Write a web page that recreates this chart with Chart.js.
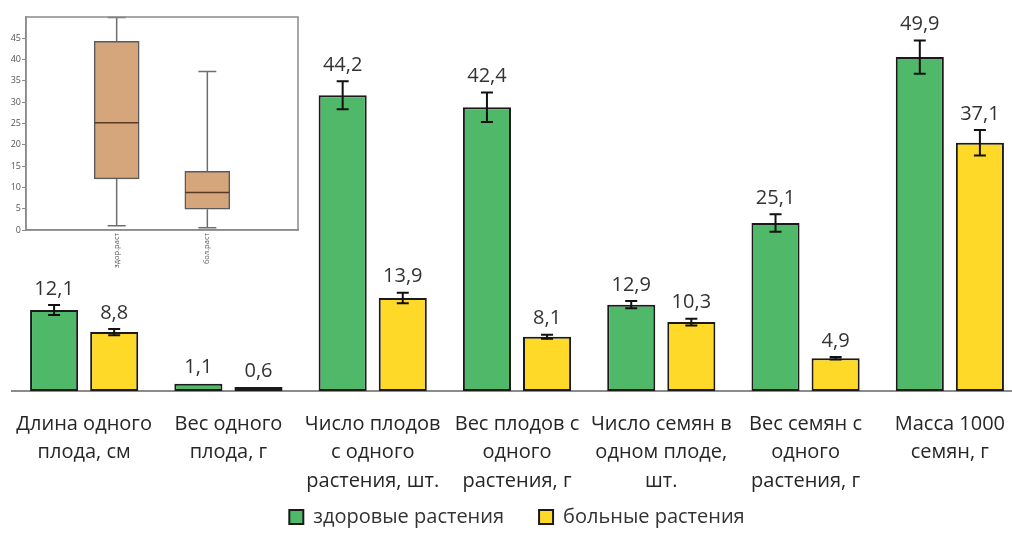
<!DOCTYPE html>
<html lang="ru">
<head>
<meta charset="utf-8">
<script src="https://cdn.jsdelivr.net/npm/chart.js@4.4.1/dist/chart.umd.min.js"></script>
<style>
  html, body { margin: 0; padding: 0; background: #fff; overflow: hidden; }
  #wrap { position: relative; width: 1012px; height: 537px; overflow: hidden; }
  #main { position: absolute; left: 0; top: 0; }
  #inset { position: absolute; left: 0; top: 0; }
</style>
</head>
<body>
<div id="wrap">
  <canvas id="main" width="1030" height="537"></canvas>
  <canvas id="inset" width="310" height="276"></canvas>
</div>
<script>
// Bar chart: plant traits, healthy vs diseased
const categories = [
  ['Длина одного', 'плода, см'],
  ['Вес одного', 'плода, г'],
  ['Число плодов', 'с одного', 'растения, шт.'],
  ['Вес плодов с', 'одного', 'растения, г'],
  ['Число семян в', 'одном плоде,', 'шт.'],
  ['Вес семян с', 'одного', 'растения, г'],
  ['Масса 1000', 'семян, г']
];
const seriesNames = ['здоровые растения', 'больные растения'];
const healthy = [12.1, 1.1, 44.2, 42.4, 12.9, 25.1, 49.9];
const diseased = [8.8, 0.6, 13.9, 8.1, 10.3, 4.9, 37.1];
const healthyErr = [0.75, 0, 2.1, 2.2, 0.55, 1.3, 2.5];
const diseasedErr = [0.45, 0, 0.8, 0.3, 0.5, 0.2, 1.9];

// Box plot: healthy vs diseased plants
const boxLabels = ['', 'здор.раст', 'бол.раст', ''];
const boxMin = [null, 1.0, 0.5, null];
const boxQ1 = [null, 12.0, 4.9, null];
const boxMedian = [null, 25.2, 8.8, null];
const boxQ3 = [null, 44.3, 13.8, null];
const boxMax = [null, 49.9, 37.2, null];
const boxTickValues = [0, 5, 10, 15, 20, 25, 30, 35, 40, 45];

Chart.defaults.font.family = "'Open Sans', 'Noto Sans', sans-serif";
Chart.defaults.animation = false;

const errors = [healthyErr, diseasedErr];

// Error bars and value labels above each bar
const errorBarPlugin = {
  id: 'errorBars',
  afterLayout(chart) {
    // let the multi-line category labels run down to the legend
    chart.scales.x.bottom = chart.height;
  },
  afterDatasetsDraw(chart) {
    const ctx = chart.ctx;
    const y = chart.scales.y;
    ctx.save();
    chart.data.datasets.forEach((ds, i) => {
      const meta = chart.getDatasetMeta(i);
      meta.data.forEach((bar, j) => {
        const v = ds.data[j];
        const e = errors[i][j];
        const top = y.getPixelForValue(v + e);
        const bot = y.getPixelForValue(v - e);
        if (e > 0) {
          ctx.strokeStyle = '#111';
          ctx.lineWidth = 2;
          ctx.beginPath();
          ctx.moveTo(bar.x, top); ctx.lineTo(bar.x, bot);
          ctx.moveTo(bar.x - 6, top); ctx.lineTo(bar.x + 6, top);
          ctx.moveTo(bar.x - 6, bot); ctx.lineTo(bar.x + 6, bot);
          ctx.stroke();
        }
        ctx.fillStyle = '#333';
        ctx.font = "20px 'Open Sans', sans-serif";
        ctx.textAlign = 'center';
        ctx.textBaseline = 'middle';
        ctx.fillText(v.toFixed(1).replace('.', ','), bar.x, top - 16);
      });
    });
    ctx.restore();
  }
};

new Chart(document.getElementById('main'), {
  type: 'bar',
  data: {
    labels: categories,
    datasets: [
      { label: seriesNames[0], data: healthy, backgroundColor: '#50B969', borderColor: '#1a1a1a', borderWidth: 2, borderSkipped: false },
      { label: seriesNames[1], data: diseased, backgroundColor: '#FFD928', borderColor: '#1a1a1a', borderWidth: 2, borderSkipped: false }
    ]
  },
  options: {
    responsive: false,
    layout: { padding: { top: 23, left: 12, right: 8, bottom: 0 } },
    categoryPercentage: 0.833,
    barPercentage: 0.8,
    scales: {
      x: {
        grid: { display: false, drawTicks: false },
        border: { display: true, color: '#8c8c8c', width: 2 },
        ticks: { color: '#262626', padding: 19, font: { size: 20, lineHeight: 1.42 }, maxRotation: 0, autoSkip: false },
        afterFit(scale) {
          scale.height = 81;
          scale.paddingLeft = 0;
          scale.paddingRight = 0;
        }
      },
      y: { display: false, min: 0, max: 55 }
    },
    plugins: {
      legend: {
        position: 'bottom',
        labels: {
          color: '#333',
          font: { size: 20 },
          boxWidth: 14,
          boxHeight: 14,
          padding: 35
        }
      },
      tooltip: { enabled: false }
    }
  },
  plugins: [errorBarPlugin]
});

// Whiskers, medians and frame of the box plot
const boxPlotPlugin = {
  id: 'boxParts',
  afterDatasetsDraw(chart) {
    const ctx = chart.ctx;
    const x = chart.scales.x;
    const y = chart.scales.y;
    const a = chart.chartArea;
    ctx.save();
    boxLabels.forEach((lab, i) => {
      if (boxQ1[i] === null) return;
      const cx = x.getPixelForValue(i);
      ctx.strokeStyle = '#6e6e6e';
      ctx.lineWidth = 1.5;
      ctx.beginPath();
      ctx.moveTo(cx, y.getPixelForValue(boxQ3[i])); ctx.lineTo(cx, y.getPixelForValue(boxMax[i]));
      ctx.moveTo(cx, y.getPixelForValue(boxQ1[i])); ctx.lineTo(cx, y.getPixelForValue(boxMin[i]));
      ctx.moveTo(cx - 9, y.getPixelForValue(boxMax[i])); ctx.lineTo(cx + 9, y.getPixelForValue(boxMax[i]));
      ctx.moveTo(cx - 9, y.getPixelForValue(boxMin[i])); ctx.lineTo(cx + 9, y.getPixelForValue(boxMin[i]));
      ctx.stroke();
      ctx.strokeStyle = '#5a3a24';
      ctx.beginPath();
      ctx.moveTo(cx - 22, y.getPixelForValue(boxMedian[i])); ctx.lineTo(cx + 22, y.getPixelForValue(boxMedian[i]));
      ctx.stroke();
    });
    ctx.strokeStyle = '#8a8a8a';
    ctx.lineWidth = 1.5;
    ctx.strokeRect(a.left, a.top, a.right - a.left, a.bottom - a.top);
    ctx.restore();
  }
};

new Chart(document.getElementById('inset'), {
  type: 'bar',
  data: {
    labels: boxLabels,
    datasets: [{
      data: boxLabels.map((l, i) => boxQ1[i] === null ? null : [boxQ1[i], boxQ3[i]]),
      backgroundColor: '#D5A57B',
      borderColor: '#5a5a5a',
      borderWidth: 1.5,
      borderSkipped: false,
      barThickness: 45
    }]
  },
  options: {
    responsive: false,
    layout: { padding: { top: 17, right: 11, left: 0, bottom: 0 } },
    scales: {
      x: {
        offset: false,
        grid: { display: false, drawTicks: false },
        border: { display: true, color: '#8a8a8a', width: 1.5 },
        ticks: { color: '#555', font: { size: 7.5 }, minRotation: 90, maxRotation: 90, padding: 3, autoSkip: false },
        afterFit(scale) { scale.height = 46; }
      },
      y: {
        min: 0,
        max: 50,
        grid: { drawOnChartArea: false, drawTicks: true, tickLength: 4, color: '#8a8a8a' },
        border: { display: true, color: '#8a8a8a', width: 1.5 },
        ticks: { color: '#555', font: { size: 9 }, padding: 1 },
        afterBuildTicks(scale) { scale.ticks = boxTickValues.map(v => ({ value: v })); },
        afterFit(scale) { scale.width = 26; }
      }
    },
    plugins: { legend: { display: false }, tooltip: { enabled: false } }
  },
  plugins: [boxPlotPlugin]
});
</script>
</body>
</html>
